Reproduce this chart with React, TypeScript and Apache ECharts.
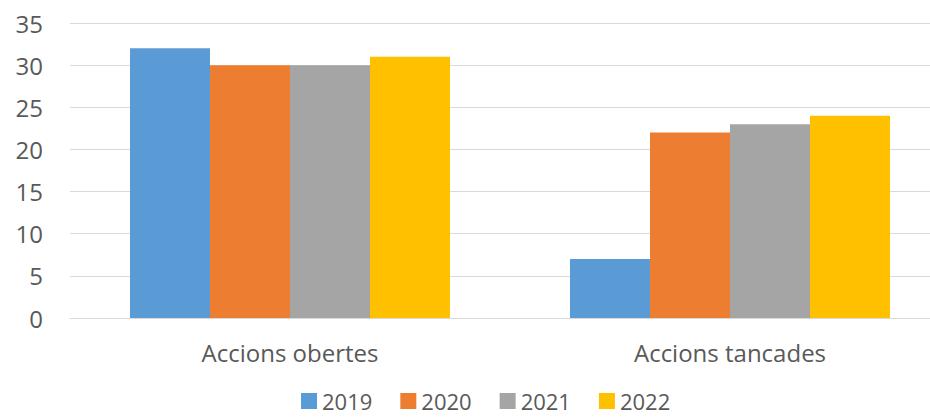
import React, { useEffect, useRef } from "react";
import * as echarts from "echarts";

const categories = ["Accions obertes", "Accions tancades"];
const seriesNames = ["2019", "2020", "2021", "2022"];
const values2019 = [32, 7];
const values2020 = [30, 22];
const values2021 = [30, 23];
const values2022 = [31, 24];
const colors = ["#5B9BD5", "#ED7D31", "#A5A5A5", "#FFC000"];

export default function App() {
  const ref = useRef<HTMLDivElement>(null);
  useEffect(() => {
    document.body.style.margin = "0";
    if (!ref.current) return;
    const chart = echarts.init(ref.current, null, { renderer: "svg" });
    const font = "'Open Sans', sans-serif";
    const data = [values2019, values2020, values2021, values2022];
    chart.setOption({
      animation: false,
      color: colors,
      textStyle: { fontFamily: font },
      grid: {
        left: 70,
        width: 880,
        top: 23,
        height: 295,
        containLabel: false,
        outerBoundsMode: "none",
      },
      legend: {
        left: 301,
        top: 390,
        itemWidth: 16,
        itemHeight: 16,
        itemGap: 28,
        icon: "rect",
        padding: 0,
        textStyle: { fontSize: 22, lineHeight: 22, color: "#595959", fontFamily: font },
        data: seriesNames,
      },
      xAxis: {
        type: "category",
        data: categories,
        axisLine: { show: true, lineStyle: { color: "#D9D9D9", width: 1 } },
        axisTick: { show: false },
        axisLabel: { fontSize: 24, color: "#595959", margin: 22, fontFamily: font },
      },
      yAxis: {
        type: "value",
        min: 0,
        max: 35,
        interval: 5,
        axisLine: { show: false },
        axisTick: { show: false },
        splitLine: { lineStyle: { color: "#D9D9D9", width: 1 } },
        axisLabel: { fontSize: 24, color: "#595959", margin: 27, fontFamily: font },
      },
      series: seriesNames.map((name, i) => ({
        name,
        type: "bar",
        data: data[i],
        barGap: "0%",
        barCategoryGap: "27.27%",
        itemStyle: { color: colors[i] },
      })),
    });
    return () => chart.dispose();
  }, []);
  return <div ref={ref} style={{ width: 930, height: 419 }} />;
}
